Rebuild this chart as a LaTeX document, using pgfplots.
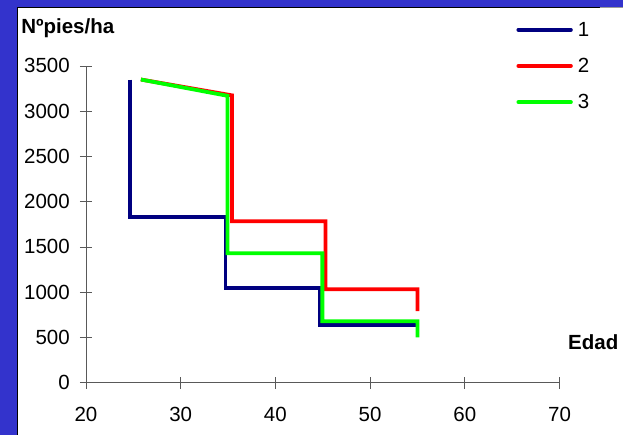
\documentclass[border=0pt]{standalone}
\usepackage{fontspec}
\setmainfont{Liberation Sans}
\usepackage{pgfplots}
\pgfplotsset{compat=1.18}
\definecolor{bgblue}{RGB}{51,51,204}
\definecolor{navy}{RGB}{0,0,128}
\definecolor{lred}{RGB}{255,0,0}
\definecolor{lgreen}{RGB}{0,255,0}
\newcommand{\chartfont}{\fontsize{20.5bp}{24bp}\selectfont}
\begin{document}
\begin{tikzpicture}
\fill[bgblue] (0bp,0bp) rectangle (623bp,435bp);
\fill[white] (17.5bp,0bp) rectangle (623bp,427.5bp);
\draw[black, line width=1bp] (17.5bp,0bp) -- (17.5bp,427.5bp) -- (600bp,427.5bp);
\draw[black!40, line width=1bp] (600bp,427.5bp) -- (623bp,427.5bp);
\useasboundingbox (0bp,0bp) rectangle (623bp,435bp);
\begin{axis}[
  at={(86bp,52bp)}, anchor=south west,
  width=474bp, height=317bp, scale only axis,
  xmin=20, xmax=70, ymin=0, ymax=3500,
  axis lines=left,
  axis line style={-, black!65, line width=0.8bp},
  xtick={20,30,40,50,60,70},
  ytick={0,500,1000,1500,2000,2500,3000,3500},
  tick align=center, major tick length=12bp,
  tick style={black!65, line width=0.8bp},
  tick label style={font=\chartfont},
  /pgf/number format/assume math mode=true,
  /pgf/number format/1000 sep={},
  yticklabel style={inner sep=0pt, anchor=east, xshift=-10bp},
  xticklabel style={inner sep=0pt, anchor=north, yshift=-18bp},
  xlabel={Edad}, ylabel={Nºpies/ha},
  every axis x label/.style={at={(rel axis cs:1.0179,0.104)}, anchor=base west, inner sep=0pt, font=\chartfont\bfseries},
  every axis y label/.style={at={(rel axis cs:-0.1367,1.104)}, anchor=base west, inner sep=0pt, font=\chartfont\bfseries},
  legend style={at={(rel axis cs:0.9086,1.1395)}, anchor=north west, draw=none, fill=none, inner sep=0pt, row sep=20.5bp, column sep=5bp, font=\chartfont, nodes={inner sep=0pt}},
  legend cell align=left,
  legend image code/.code={\draw[#1, line cap=round] (0bp,0bp) -- (52.6bp,0bp);},
  clip=false,
]
\addplot[navy, line width=3.8bp, line join=miter] coordinates {(24.64,3350) (24.64,1830) (34.73,1830) (34.73,1050) (44.65,1050) (44.65,640) (55,640)};
\addplot[lred, line width=3.8bp, line join=miter] coordinates {(25.8,3350) (35.42,3175) (35.42,1785) (45.3,1785) (45.3,1032) (55,1032) (55,790)};
\addplot[lgreen, line width=3.8bp, line join=miter] coordinates {(25.8,3350) (34.94,3170) (34.94,1430) (44.96,1430) (44.96,678) (55,678) (55,500)};
\legend{1,2,3}
\end{axis}
\end{tikzpicture}
\end{document}
